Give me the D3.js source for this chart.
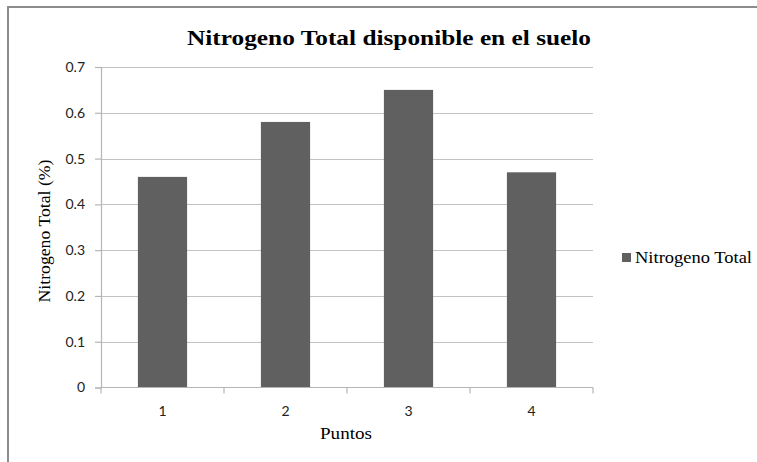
<!DOCTYPE html>
<html>
<head>
<meta charset="utf-8">
<script src="https://cdn.jsdelivr.net/npm/d3@7"></script>
<style>
  body { margin: 0; background: #fff; }
  svg { display: block; }
</style>
</head>
<body>
<svg id="chart" width="757" height="462"></svg>
<script>
// data
var puntos = ["1", "2", "3", "4"];
var nitrogeno = [0.46, 0.58, 0.65, 0.47];
var yTicks = [0, 0.1, 0.2, 0.3, 0.4, 0.5, 0.6, 0.7];
var serieName = "Nitrogeno Total";

var svg = d3.select("svg#chart");
var serif = "'Liberation Serif', 'Times New Roman', serif";
var sans = "Lato, 'Liberation Sans', sans-serif";

// outer frame (right and bottom edges fall off the picture)
svg.append("rect")
  .attr("x", 8).attr("y", 7)
  .attr("width", 800).attr("height", 500)
  .attr("fill", "#fff")
  .attr("stroke", "#8c8c8c")
  .attr("stroke-width", 2);

var plotL = 101, plotR = 593, plotT = 67, plotB = 387.5;

var x = d3.scaleBand()
  .domain(puntos)
  .range([plotL, plotR])
  .paddingInner(0.6)
  .paddingOuter(0.3);

var y = d3.scaleLinear()
  .domain([0, 0.7])
  .range([plotB, plotT]);

// gridlines
svg.append("g")
  .selectAll("line")
  .data(yTicks.slice(1))
  .enter()
  .append("line")
  .attr("x1", plotL).attr("x2", plotR)
  .attr("y1", d => Math.round(y(d)) + 0.5)
  .attr("y2", d => Math.round(y(d)) + 0.5)
  .attr("stroke", "#c3c3c3")
  .attr("stroke-width", 1.2);

// bars
svg.append("g")
  .selectAll("rect")
  .data(puntos)
  .enter()
  .append("rect")
  .attr("x", d => x(d))
  .attr("y", (d, i) => y(nitrogeno[i]))
  .attr("width", x.bandwidth())
  .attr("height", (d, i) => plotB - y(nitrogeno[i]))
  .attr("fill", "#606060");

// y axis
var yAxis = svg.append("g")
  .attr("transform", "translate(" + plotL + ",0)")
  .call(d3.axisLeft(y).tickValues(yTicks).tickSize(6).tickPadding(10)
    .tickFormat(d => d === 0 ? "0" : d3.format(".1f")(d)));
yAxis.select(".domain").attr("stroke", "#b5b5b5").attr("stroke-width", 1.2);
yAxis.selectAll(".tick line").attr("stroke", "#b5b5b5").attr("stroke-width", 1.2);
yAxis.selectAll("text")
  .attr("font-family", sans).attr("font-size", 14).attr("fill", "#222");

// x axis with category boundary ticks
var xAxis = svg.append("g")
  .attr("transform", "translate(0," + plotB + ")");
xAxis.append("line")
  .attr("x1", plotL).attr("x2", plotR)
  .attr("stroke", "#b5b5b5").attr("stroke-width", 1.2);
var bounds = puntos.map(d => x(d) - x.step() * 0.3).concat([plotR]);
xAxis.selectAll("line.tk")
  .data(bounds)
  .enter()
  .append("line")
  .attr("class", "tk")
  .attr("x1", d => d).attr("x2", d => d)
  .attr("y1", 0).attr("y2", 6)
  .attr("stroke", "#b5b5b5").attr("stroke-width", 1.2);
xAxis.selectAll("text")
  .data(puntos)
  .enter()
  .append("text")
  .attr("x", d => x(d) + x.bandwidth() / 2)
  .attr("y", 28)
  .attr("text-anchor", "middle")
  .attr("font-family", sans).attr("font-size", 14).attr("fill", "#222")
  .text(d => d);

// title
svg.append("text")
  .attr("x", 389).attr("y", 45)
  .attr("text-anchor", "middle")
  .attr("font-family", serif).attr("font-weight", "bold").attr("font-size", 22)
  .attr("textLength", 404).attr("lengthAdjust", "spacingAndGlyphs")
  .text("Nitrogeno Total disponible en el suelo");

// axis titles
svg.append("text")
  .attr("x", 346).attr("y", 439)
  .attr("text-anchor", "middle")
  .attr("font-family", serif).attr("font-size", 16)
  .attr("textLength", 52).attr("lengthAdjust", "spacingAndGlyphs")
  .text("Puntos");

svg.append("text")
  .attr("transform", "translate(50,231) rotate(-90)")
  .attr("text-anchor", "middle")
  .attr("font-family", serif).attr("font-size", 16)
  .attr("textLength", 143).attr("lengthAdjust", "spacingAndGlyphs")
  .text("Nitrogeno Total (%)");

// legend
var legend = svg.append("g").attr("transform", "translate(622,253)");
legend.append("rect")
  .attr("width", 9).attr("height", 9)
  .attr("fill", "#606060");
legend.append("text")
  .attr("x", 13).attr("y", 9.5)
  .attr("font-family", serif).attr("font-size", 16)
  .attr("textLength", 117).attr("lengthAdjust", "spacingAndGlyphs")
  .text(serieName);
</script>
</body>
</html>
